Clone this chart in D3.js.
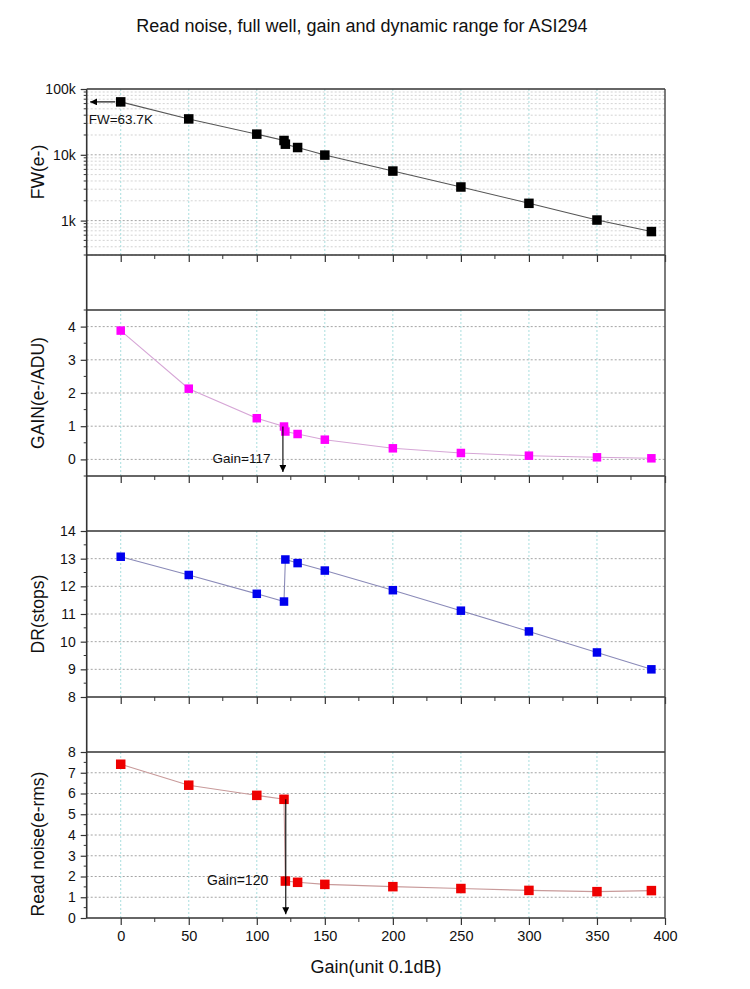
<!DOCTYPE html>
<html>
<head>
<meta charset="utf-8">
<script src="https://cdn.jsdelivr.net/npm/d3@7"></script>
<style>
  body { margin: 0; background: #fff; }
  text { font-family: "Liberation Sans", Arial, sans-serif; fill: #111; }
</style>
</head>
<body>
<script>
// gain settings (unit 0.1dB) shared by all four layers
const gains = [0, 50, 100, 120, 121, 130, 150, 200, 250, 300, 350, 390];
const fullWell = [63700, 35100, 20600, 16500, 14500, 12900, 9900, 5660, 3240, 1830, 1020, 681];
const eGain = [3.88, 2.13, 1.24, 0.99, 0.84, 0.765, 0.594, 0.334, 0.193, 0.112, 0.063, 0.033];
const dynRange = [13.07, 12.41, 11.73, 11.45, 12.97, 12.84, 12.57, 11.86, 11.12, 10.37, 9.61, 9.0];
const readNoise = [7.41, 6.40, 5.91, 5.72, 1.78, 1.72, 1.62, 1.51, 1.42, 1.33, 1.27, 1.32];
const xTicks = [0, 50, 100, 150, 200, 250, 300, 350, 400];

let width = 750, height = 989;
let left = 86.7, right = 665;
let panelH = 166, panelStep = 221, firstTop = 89;

let svg = d3.select("body").append("svg")
    .attr("width", width)
    .attr("height", height);

let x = d3.scaleLinear().domain([-25, 400]).range([left, right]);

// title
svg.append("text")
    .attr("x", 362).attr("y", 32)
    .attr("text-anchor", "middle")
    .style("font-size", "18px")
    .text("Read noise, full well, gain and dynamic range for ASI294");

let panels = [
    { name: "FW(e-)", values: fullWell, log: true, domain: [300, 100000],
      major: [1000, 10000, 100000], fmt: d => (d / 1000) + "k",
      marker: "#000", line: "#555", size: 9.5 },
    { name: "GAIN(e-/ADU)", values: eGain, domain: [-0.5, 4.5],
      major: [0, 1, 2, 3, 4], minor: d3.range(-0.5, 4.6, 0.5),
      marker: "#ff00ff", line: "#d6a6d6", size: 8.5 },
    { name: "DR(stops)", values: dynRange, domain: [8, 14],
      major: d3.range(8, 15), minor: d3.range(8, 14.01, 0.5),
      marker: "#0000ee", line: "#8a8ab8", size: 8.5 },
    { name: "Read noise(e-rms)", values: readNoise, domain: [0, 8],
      major: d3.range(0, 9), minor: d3.range(0, 8.01, 0.5),
      marker: "#ee0000", line: "#c89a9a", size: 9.5, labelShift: 9 }
];

panels.forEach((p, i) => {
    let top = firstTop + i * panelStep, bottom = top + panelH;
    let y = p.log ? d3.scaleLog() : d3.scaleLinear();
    y.domain(p.domain).range([bottom, top]);
    p.y = y; p.top = top; p.bottom = bottom;

    let g = svg.append("g");

    // minor grid / ticks for log layer
    let minorVals = p.minor;
    if (p.log) {
        minorVals = [];
        [100, 1000, 10000].forEach(dec => d3.range(2, 10).forEach(k => {
            let v = dec * k;
            if (v >= p.domain[0] && v < p.domain[1]) minorVals.push(v);
        }));
        g.selectAll(".mgrid").data(minorVals).enter().append("line")
            .attr("x1", left).attr("x2", right)
            .attr("y1", d => y(d)).attr("y2", d => y(d))
            .attr("stroke", "#c8c8c8").attr("stroke-width", 0.8)
            .attr("stroke-dasharray", "2,2");
    }

    // horizontal grid at major ticks
    g.selectAll(".hgrid").data(p.major.filter(d => y(d) > top + 1 && y(d) < bottom - 1))
        .enter().append("line")
        .attr("x1", left).attr("x2", right)
        .attr("y1", d => y(d)).attr("y2", d => y(d))
        .attr("stroke", "#9a9a9a").attr("stroke-width", 0.9)
        .attr("stroke-dasharray", "2,2");

    // vertical grid (light cyan)
    g.selectAll(".vgrid").data(xTicks.filter(d => d < 400)).enter().append("line")
        .attr("x1", d => x(d)).attr("x2", d => x(d))
        .attr("y1", top).attr("y2", bottom)
        .attr("stroke", "#9fdada").attr("stroke-width", 0.9)
        .attr("stroke-dasharray", "2,2");

    // y axis ticks + labels
    let yAxis = d3.axisLeft(y).tickValues(p.major).tickSize(6).tickPadding(5)
        .tickFormat(p.fmt || (d => d));
    let ya = g.append("g").attr("transform", "translate(" + left + ",0)").call(yAxis);
    ya.select(".domain").remove();
    ya.selectAll("line").attr("stroke", "#333").attr("stroke-width", 1.2);
    ya.selectAll("text").style("font-size", "14px").style("fill", "#111");

    g.selectAll(".ymin").data(minorVals.filter(d => p.major.indexOf(d) < 0)).enter().append("line")
        .attr("x1", left - 3).attr("x2", left)
        .attr("y1", d => y(d)).attr("y2", d => y(d))
        .attr("stroke", "#333").attr("stroke-width", 1);

    // x axis ticks at bottom of layer, outward
    let xAxis = d3.axisBottom(x).tickValues(xTicks).tickSize(7).tickPadding(6)
        .tickFormat(i === panels.length - 1 ? (d => d) : "");
    let xa = g.append("g").attr("transform", "translate(0," + bottom + ")").call(xAxis);
    xa.select(".domain").remove();
    xa.selectAll("line").attr("stroke", "#333").attr("stroke-width", 1.2);
    xa.selectAll("text").style("font-size", "14.5px").style("fill", "#111");
    g.selectAll(".xmin").data(d3.range(25, 400, 50)).enter().append("line")
        .attr("x1", d => x(d)).attr("x2", d => x(d))
        .attr("y1", bottom).attr("y2", bottom + 4)
        .attr("stroke", "#333").attr("stroke-width", 1);

    // layer top and bottom borders
    g.append("line").attr("x1", left).attr("x2", right)
        .attr("y1", top).attr("y2", top)
        .attr("stroke", "#333").attr("stroke-width", 1.6);
    g.append("line").attr("x1", left).attr("x2", right)
        .attr("y1", bottom).attr("y2", bottom)
        .attr("stroke", "#333").attr("stroke-width", 1.6);

    // data line and markers
    let pts = gains.map((gv, k) => [gv, p.values[k]]);
    g.append("path")
        .datum(pts)
        .attr("fill", "none")
        .attr("stroke", p.line)
        .attr("stroke-width", 1.1)
        .attr("d", d3.line().x(d => x(d[0])).y(d => y(d[1])));
    g.selectAll(".pt").data(pts).enter().append("rect")
        .attr("x", d => x(d[0]) - p.size / 2)
        .attr("y", d => y(d[1]) - p.size / 2)
        .attr("width", p.size).attr("height", p.size)
        .attr("fill", p.marker);

    // y title
    let cy = (top + bottom) / 2 + (p.labelShift || 0);
    svg.append("text")
        .attr("transform", "translate(44," + cy + ") rotate(-90)")
        .attr("text-anchor", "middle")
        .style("font-size", "17.5px")
        .text(p.name);
});

// left and right frame lines run through all layers
svg.append("line").attr("x1", left).attr("x2", left)
    .attr("y1", panels[0].top).attr("y2", panels[3].bottom)
    .attr("stroke", "#333").attr("stroke-width", 1.6);
svg.append("line").attr("x1", right).attr("x2", right)
    .attr("y1", panels[0].top).attr("y2", panels[3].bottom)
    .attr("stroke", "#444").attr("stroke-width", 1.4);

// x title
svg.append("text")
    .attr("x", 376).attr("y", 973)
    .attr("text-anchor", "middle")
    .style("font-size", "18px")
    .text("Gain(unit 0.1dB)");

// arrows and annotations
let defs = svg.append("defs");
defs.append("marker")
    .attr("id", "arrow").attr("viewBox", "0 0 10 10")
    .attr("refX", 10).attr("refY", 5)
    .attr("markerWidth", 7).attr("markerHeight", 7)
    .attr("markerUnits", "userSpaceOnUse")
    .attr("orient", "auto")
    .append("path").attr("d", "M0,0 L10,5 L0,10 Z").attr("fill", "#000");

function arrow(x1, y1, x2, y2) {
    svg.append("line")
        .attr("x1", x1).attr("y1", y1).attr("x2", x2).attr("y2", y2)
        .attr("stroke", "#000").attr("stroke-width", 1.1)
        .attr("marker-end", "url(#arrow)");
}

let fwP = panels[0], gP = panels[1], rP = panels[3];
arrow(x(-4), fwP.y(63700), x(-22.5), fwP.y(63700));
svg.append("text").attr("x", x(-23.5)).attr("y", fwP.y(29500))
    .style("font-size", "13.5px").text("FW=63.7K");

arrow(x(119.2), gP.y(0.99), x(119.2), gP.y(-0.38));
svg.append("text").attr("x", x(67.5)).attr("y", gP.y(-0.12))
    .style("font-size", "13.5px").text("Gain=117");

arrow(x(121.3), rP.y(5.72), x(121.3), rP.y(0.18));
svg.append("text").attr("x", x(63.5)).attr("y", rP.y(1.57))
    .style("font-size", "14px").text("Gain=120");
</script>
</body>
</html>
